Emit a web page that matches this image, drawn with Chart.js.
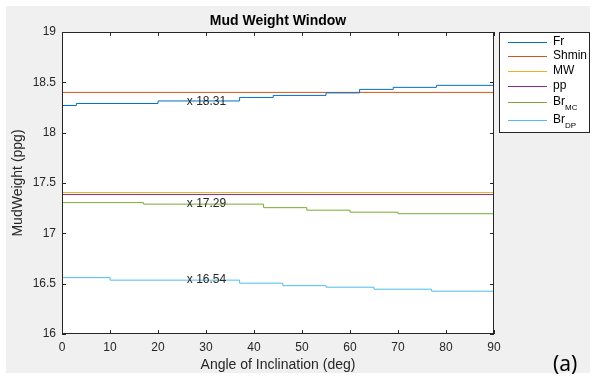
<!DOCTYPE html>
<html>
<head>
<meta charset="utf-8">
<script src="https://cdn.jsdelivr.net/npm/chart.js@4/dist/chart.umd.min.js"></script>
<style>
  html, body { margin: 0; padding: 0; background: #fff; }
  #wrap { width: 592px; height: 381px; position: relative; }
</style>
</head>
<body>
<div id="wrap"><canvas id="chart" width="592" height="381"></canvas></div>
<script>
// step breakpoints (deg) and the level held from each breakpoint to the next
const frAngles = [0, 3, 20, 37, 44, 55, 62, 69, 78, 90];
const frValues = [18.27, 18.29, 18.315, 18.35, 18.37, 18.395, 18.43, 18.45, 18.47, 18.47];
const shminAngles = [0, 90];
const shminValues = [18.40, 18.40];
const mwAngles = [0, 90];
const mwValues = [17.405, 17.405];
const ppAngles = [0, 90];
const ppValues = [17.385, 17.385];
const brMcAngles = [0, 17, 42, 51, 60, 70, 90];
const brMcValues = [17.305, 17.29, 17.255, 17.23, 17.21, 17.195, 17.195];
const brDpAngles = [0, 10, 37, 46, 55, 65, 77, 90];
const brDpValues = [16.56, 16.535, 16.505, 16.48, 16.465, 16.445, 16.425, 16.425];

const xTicks = [0, 10, 20, 30, 40, 50, 60, 70, 80, 90];
const yTicks = [16, 16.5, 17, 17.5, 18, 18.5, 19];

// data tips
const tipAngles = [26, 26, 26];
const tipValues = [18.31, 17.29, 16.54];
const tipTexts = ["x 18.31", "x 17.29", "x 16.54"];

const legendNames = [["Fr", ""], ["Shmin", ""], ["MW", ""], ["pp", ""], ["Br", "MC"], ["Br", "DP"]];
const colors = ["#0072BD", "#D95319", "#EDB120", "#7E2F8E", "#77AC30", "#4DBEEE"];

function pts(xs, ys) {
    return xs.map((x, i) => ({ x: x, y: ys[i] }));
}

const series = [
    pts(frAngles, frValues),
    pts(shminAngles, shminValues),
    pts(mwAngles, mwValues),
    pts(ppAngles, ppValues),
    pts(brMcAngles, brMcValues),
    pts(brDpAngles, brDpValues),
];

const FONT = "Liberation Sans, Arial, sans-serif";
const TXT = "#262626";

const decor = {
    id: "decor",
    beforeDraw(chart) {
        const ctx = chart.ctx;
        const a = chart.chartArea;
        ctx.save();
        ctx.fillStyle = "#f0f0f0";
        ctx.fillRect(6, 6, 584, 367);
        ctx.fillStyle = "#fff";
        ctx.fillRect(a.left, a.top, a.right - a.left, a.bottom - a.top);
        ctx.restore();
    },
    afterDraw(chart) {
        const ctx = chart.ctx;
        const a = chart.chartArea;
        const xs = chart.scales.x, ys = chart.scales.y;
        ctx.save();
        // box and inward ticks
        ctx.strokeStyle = TXT;
        ctx.lineWidth = 1;
        ctx.strokeRect(a.left + 0.5, a.top + 0.5, a.right - a.left - 1, a.bottom - a.top - 1);
        ctx.beginPath();
        xTicks.forEach(t => {
            const px = Math.round(xs.getPixelForValue(t)) + 0.5;
            ctx.moveTo(px, a.bottom); ctx.lineTo(px, a.bottom - 4);
            ctx.moveTo(px, a.top); ctx.lineTo(px, a.top + 4);
        });
        yTicks.forEach(t => {
            const py = Math.round(ys.getPixelForValue(t)) + 0.5;
            ctx.moveTo(a.left, py); ctx.lineTo(a.left + 4, py);
            ctx.moveTo(a.right, py); ctx.lineTo(a.right - 4, py);
        });
        ctx.stroke();

        // title and axis titles
        ctx.fillStyle = "#000";
        ctx.font = "bold 14px " + FONT;
        ctx.textAlign = "center";
        ctx.textBaseline = "middle";
        ctx.fillText("Mud Weight Window", (a.left + a.right) / 2, 21);
        ctx.fillStyle = TXT;
        ctx.font = "14px " + FONT;
        ctx.fillText("Angle of Inclination (deg)", (a.left + a.right) / 2, 365);
        ctx.save();
        ctx.translate(18, 183);
        ctx.rotate(-Math.PI / 2);
        ctx.fillText("MudWeight (ppg)", 0, 0);
        ctx.restore();

        // data tips
        ctx.font = "12px " + FONT;
        ctx.textAlign = "left";
        tipTexts.forEach((t, i) => {
            ctx.fillText(t, xs.getPixelForValue(tipAngles[i]), ys.getPixelForValue(tipValues[i]));
        });

        // legend
        ctx.fillStyle = "#fff";
        ctx.fillRect(499, 32, 91, 101);
        ctx.strokeStyle = TXT;
        ctx.strokeRect(499.5, 32.5, 90, 100);
        const rows = [42, 56, 71, 86, 102, 120];
        legendNames.forEach((n, i) => {
            const y = rows[i];
            ctx.strokeStyle = colors[i];
            ctx.beginPath();
            ctx.moveTo(508, y + 0.5); ctx.lineTo(547, y + 0.5);
            ctx.stroke();
            ctx.fillStyle = "#000";
            ctx.font = "12px " + FONT;
            ctx.textBaseline = "middle";
            ctx.fillText(n[0], 553, y);
            if (n[1]) {
                const w = ctx.measureText(n[0]).width;
                ctx.font = "8px " + FONT;
                ctx.fillText(n[1], 553 + w, y + 6);
            }
        });
        ctx.restore();

        // panel label
        ctx.save();
        ctx.fillStyle = "#000";
        ctx.font = "21px Noto Sans, sans-serif";
        ctx.textAlign = "left";
        ctx.textBaseline = "middle";
        ctx.fillText("(a)", 553, 365);
        ctx.restore();
    }
};

new Chart(document.getElementById("chart"), {
    type: "line",
    data: {
        datasets: series.map((d, i) => ({
            label: legendNames[i].join(""),
            data: d,
            borderColor: colors[i],
            borderWidth: 1,
            pointRadius: 0,
            stepped: true,
            fill: false,
        })),
    },
    options: {
        responsive: false,
        animation: false,
        events: [],
        layout: { padding: { top: 32, right: 98, left: 0, bottom: 0 } },
        plugins: { legend: { display: false }, title: { display: false }, tooltip: { enabled: false } },
        scales: {
            x: {
                type: "linear",
                min: 0, max: 90,
                afterBuildTicks: s => { s.ticks = xTicks.map(v => ({ value: v })); },
                afterFit: s => { s.height = 47; },
                grid: { display: false, tickLength: 0 },
                border: { display: false },
                ticks: { color: TXT, font: { size: 12, family: FONT }, padding: 6, maxRotation: 0 },
            },
            y: {
                min: 16, max: 19,
                afterBuildTicks: s => { s.ticks = yTicks.map(v => ({ value: v })); },
                afterFit: s => { s.width = 62; },
                grid: { display: false, tickLength: 0 },
                border: { display: false },
                ticks: { color: TXT, font: { size: 12, family: FONT }, padding: 6, callback: v => String(v) },
            },
        },
    },
    plugins: [decor],
});
</script>
</body>
</html>
